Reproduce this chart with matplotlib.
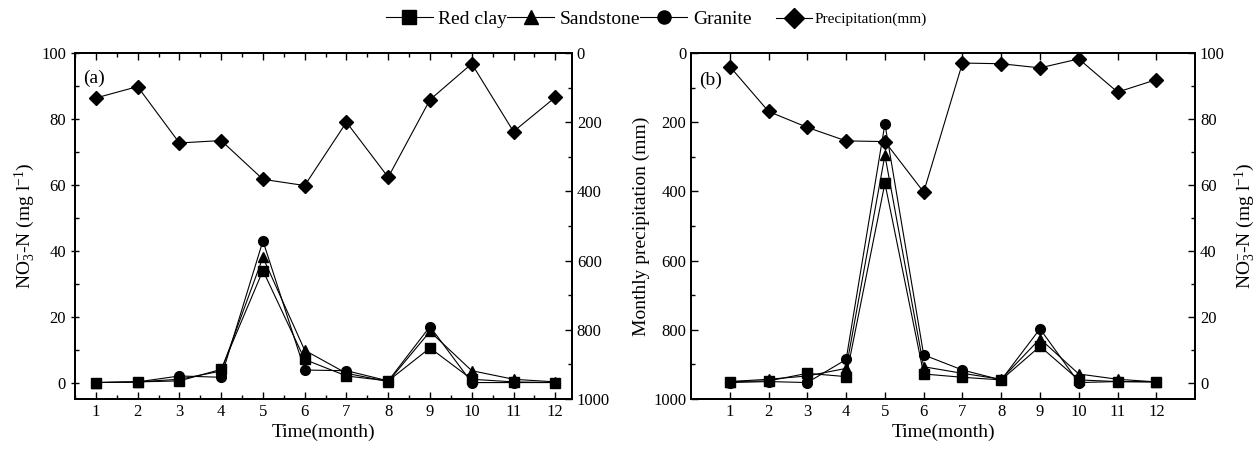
import matplotlib
matplotlib.use("Agg")
import matplotlib.pyplot as plt
from matplotlib.ticker import MultipleLocator

plt.rcParams['font.family'] = ['Liberation Serif', 'DejaVu Serif']
plt.rcParams['mathtext.fontset'] = 'custom'
plt.rcParams['mathtext.rm'] = 'Liberation Serif'
plt.rcParams['mathtext.it'] = 'Liberation Serif:italic'

# Datos
meses = [1, 2, 3, 4, 5, 6, 7, 8, 9, 10, 11, 12]
series = ['Red clay', 'Sandstone', 'Granite']
etiqueta_lluvia = 'Precipitation(mm)'

# Panel (a)
lluvia_a = [130, 97, 260, 253, 365, 383, 200, 359, 135, 31, 227, 128]
arcilla_a = [0, 0.2, 0.5, 4, 34, 7, 2, 0.5, 10.5, 1, 0.2, 0]
arenisca_a = [0, 0.2, 1, 3.5, 38, 9.8, 2.8, 0.3, 15.5, 3.6, 1, 0.2]
granito_a = [0, 0.2, 2, 1.6, 43, 3.8, 3.6, 0.5, 17, 0, 0, 0]

# Panel (b)
lluvia_b = [39, 169, 215, 254, 256, 402, 29, 31, 43, 17, 113, 77]
arcilla_b = [0.3, 0.5, 2.8, 1.8, 60.5, 2.6, 1.6, 0.8, 11, 0.8, 0.3, 0.2]
arenisca_b = [0.3, 1, 2, 4.3, 69, 4.8, 2.8, 1, 13.3, 2.6, 1, 0.2]
granito_b = [0, 0.3, 0, 7, 78.5, 8.4, 3.8, 0.8, 16.3, 0, 0.3, 0.2]

marcadores = ['s', '^', 'o']
etiqueta_no3 = r'NO$_3^{-}$-N (mg l$^{-1}$)'


def estilo_eje(ax, lado_dir='in'):
    ax.tick_params(axis='both', which='both', direction=lado_dir, labelsize=12,
                   width=1.0, colors='black')
    ax.tick_params(which='major', length=5)
    ax.tick_params(which='minor', length=3)
    for s in ax.spines.values():
        s.set_linewidth(1.4)


def dibujar_no3(ax, valores):
    lineas = []
    for nombre, vals, m in zip(series, valores, marcadores):
        l, = ax.plot(meses, vals, color='black', lw=0.8, marker=m, ms=7,
                     label=nombre)
        lineas.append(l)
    ax.set_ylim(-5, 100)
    ax.yaxis.set_major_locator(MultipleLocator(20))
    ax.yaxis.set_minor_locator(MultipleLocator(10))
    return lineas


def dibujar_lluvia(ax, valores):
    l, = ax.plot(meses, valores, color='black', lw=0.8, marker='D', ms=7.5,
                 label=etiqueta_lluvia)
    ax.set_ylim(1000, 0)
    ax.yaxis.set_major_locator(MultipleLocator(200))
    ax.yaxis.set_minor_locator(MultipleLocator(100))
    return l


def main():
    fig = plt.figure(figsize=(12.56, 4.55), dpi=100)

    # Panel (a): NO3 a la izquierda, lluvia a la derecha
    ax1 = fig.add_axes([0.0597, 0.123, 0.3957, 0.7605])
    ax1b = ax1.twinx()
    lineas = dibujar_no3(ax1, [arcilla_a, arenisca_a, granito_a])
    l_lluvia = dibujar_lluvia(ax1b, lluvia_a)
    ax1.set_xlim(0.5, 12.4)
    ax1.set_xticks(meses)
    ax1.xaxis.set_minor_locator(MultipleLocator(0.5))
    ax1.tick_params(top=True, which='both')
    ax1.set_xlabel('Time(month)', fontsize=14, labelpad=3)
    ax1.set_ylabel(etiqueta_no3, fontsize=14, labelpad=2)
    ax1.text(0.016, 0.927, '(a)', transform=ax1.transAxes, fontsize=14,
             va='center')
    estilo_eje(ax1)
    estilo_eje(ax1b)
    ax1.tick_params(axis='y', direction='inout', length=6)

    # Panel (b): lluvia a la izquierda, NO3 a la derecha
    ax2 = fig.add_axes([0.5502, 0.123, 0.4013, 0.7605])
    ax2b = ax2.twinx()
    dibujar_lluvia(ax2, lluvia_b)
    dibujar_no3(ax2b, [arcilla_b, arenisca_b, granito_b])
    ax2.set_xlim(0, 13)
    ax2.set_xticks(meses)
    ax2.tick_params(top=True, which='both')
    ax2.set_xlabel('Time(month)', fontsize=14, labelpad=3)
    ax2.set_ylabel('Monthly precipitation (mm)', fontsize=14, labelpad=2)
    ax2b.set_ylabel(etiqueta_no3, fontsize=14, labelpad=6)
    ax2.text(0.016, 0.92, '(b)', transform=ax2.transAxes, fontsize=14,
             va='center')
    estilo_eje(ax2)
    estilo_eje(ax2b)

    # Leyenda comun arriba (dos partes, la de lluvia con letra menor)
    fig.legend(lineas, series, loc='center left',
               bbox_to_anchor=(386 / 1256, 0.958), ncol=3, frameon=False,
               fontsize=14, handlelength=2.4, handletextpad=0.3,
               columnspacing=0.0, borderpad=0, borderaxespad=0,
               markerscale=1.35)
    fig.legend([l_lluvia], [etiqueta_lluvia], loc='center left',
               bbox_to_anchor=(776 / 1256, 0.958), frameon=False,
               fontsize=11, handlelength=2.35, handletextpad=0.2,
               borderpad=0, borderaxespad=0, markerscale=1.35)

    fig.savefig('out.png', dpi=100)


if __name__ == "__main__":
    main()
